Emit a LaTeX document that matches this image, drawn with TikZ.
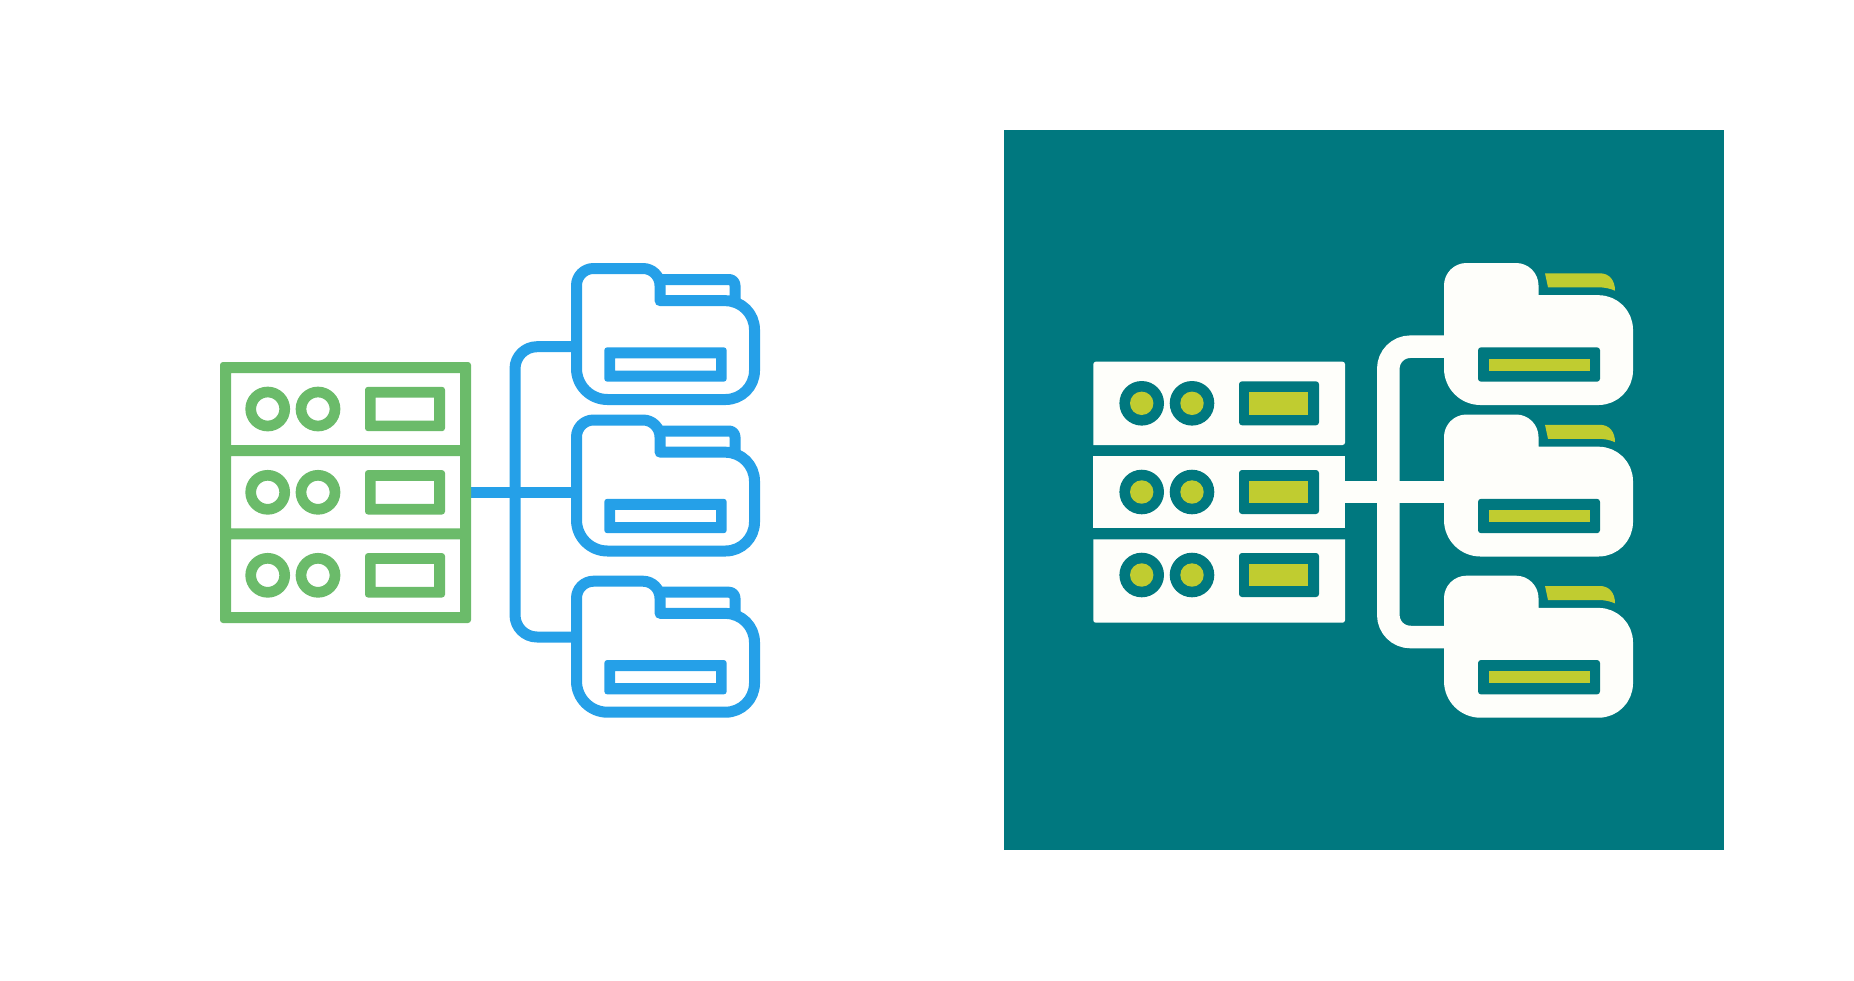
\documentclass[tikz,border=0pt]{standalone}
\definecolor{srvgreen}{HTML}{6BBB6A}
\definecolor{fldblue}{HTML}{25A0E8}
\definecolor{panelteal}{HTML}{00787F}
\definecolor{lime}{HTML}{C0CC30}
\definecolor{paper}{HTML}{FEFEFA}
\tikzset{
  gline/.style={draw=srvgreen,line width=11pt,line join=round},
  bline/.style={draw=fldblue,line width=11pt,line join=round},
  wline/.style={draw=paper,line width=22.5pt},
  whitefill/.style={fill=paper,draw=paper,line width=11pt,line join=round},
  greenframe/.style={fill=srvgreen,even odd rule},
  blueframe/.style={fill=fldblue,even odd rule},
  tealbox/.style={fill=panelteal,rounded corners=3pt},
  limebox/.style={fill=lime},
  whitebox/.style={fill=paper,rounded corners=2.5pt},
}
% folder outline, centre line
\newcommand{\folderoutline}{
  [rounded corners=17pt] (576.5,330) -- (576.5,268.5) -- (660,268.5)
  [sharp corners] -- (660,300.7)
  [rounded corners=29pt] -- (754.5,300.7) -- (754.5,399.5)
  [rounded corners=31pt] -- (576.5,399.5) -- cycle
}
\newcommand{\leftfolder}[1]{
  \begin{scope}[yshift=-#1pt]
    \draw[bline] \folderoutline;
    \draw[bline] [rounded corners=6pt] (660,279.5) -- (735,279.5) -- (735,302);
    \fill[blueframe] [rounded corners=3pt] (604.3,347.3) rectangle (726.7,381.7)
      [sharp corners] (615,358.3) rectangle (716,370.5);
  \end{scope}
}
\newcommand{\rightfolder}[1]{
  \begin{scope}[yshift=-#1pt]
    \path[whitefill,xshift=873pt] \folderoutline;
    \fill[tealbox] (1478,347.3) rectangle (1600,381.7);
    \fill[limebox] (1488.7,358.7) rectangle (1590,370.7);
    \fill[lime] (1545,273.3) -- (1600,273.3) .. controls (1609,273.3) and (1615,280) .. (1615,290.7)
      .. controls (1610,288.5) and (1605,287.3) .. (1598,287.3) -- (1548,287.3) -- cycle;
  \end{scope}
}
\newcommand{\leftrow}[1]{
  \draw[gline,line width=10.7pt] (267.7,#1) circle[radius=17];
  \draw[gline,line width=10.7pt] (318,#1) circle[radius=17];
  \fill[greenframe] [rounded corners=3pt] (365,#1-22.2) rectangle (445,#1+22.2)
    [sharp corners] (375.5,#1-11.5) rectangle (434,#1+11.5);
}
\newcommand{\rightrow}[1]{
  \fill[panelteal] (1141.7,#1) circle[radius=22.3];
  \fill[panelteal] (1192,#1) circle[radius=22.3];
  \fill[lime] (1141.7,#1) circle[radius=11.7];
  \fill[lime] (1192,#1) circle[radius=11.7];
  \fill[tealbox] (1239,#1-22) rectangle (1319,#1+22);
  \fill[limebox] (1249.3,#1-11.3) rectangle (1308.3,#1+11.3);
}
\begin{document}
\begin{tikzpicture}[x=1pt,y=-1pt]
\useasboundingbox (0,0) rectangle (1854,980);
\fill[white] (0,0) rectangle (1854,980);

% ---- left icon: connectors
\coordinate (lsrv) at (465,492);
\coordinate (lfa) at (578,346.7);
\coordinate (lfb) at (578,492);
\coordinate (lfc) at (578,637);
\coordinate (lbend) at (515,346.7);
\coordinate (lbendb) at (515,637);
\draw[bline] (lsrv) -- (lfb);
\draw[bline,rounded corners=22pt] (lfa) -- (lbend) -- (lbendb) -- (lfc);

% ---- left icon: server
\fill[greenframe] [rounded corners=3pt] (220,362) rectangle (471,623)
  [sharp corners] (231,373) rectangle (460,445)
  (231,456) rectangle (460,528.3)
  (231,539.3) rectangle (460,612);
\leftrow{409}
\leftrow{492.3}
\leftrow{575.3}

% ---- left icon: folders
\leftfolder{0}
\leftfolder{151.5}
\leftfolder{312.7}

% ---- right icon
\fill[panelteal] (1003.5,130) rectangle (1724.3,850);

\coordinate (rsrv) at (1340,492);
\coordinate (rfa) at (1450,346.7);
\coordinate (rfb) at (1450,492);
\coordinate (rfc) at (1450,637);
\coordinate (rbend) at (1388.3,346.7);
\coordinate (rbendb) at (1388.3,637);
\draw[wline] (rsrv) -- (rfb);
\draw[wline,rounded corners=22pt] (rfa) -- (rbend) -- (rbendb) -- (rfc);

\fill[whitebox] (1093.3,361.7) -- (1345,361.7) -- (1345,445) [sharp corners] -- (1093.3,445) [rounded corners=2.5pt] -- cycle;
\fill[paper] (1093.3,456) rectangle (1345,528.3);
\fill[whitebox] (1093.3,539.3) [sharp corners] -- (1345,539.3) [rounded corners=2.5pt] -- (1345,622.7) -- (1093.3,622.7) [sharp corners] -- cycle;
\rightrow{403.3}
\rightrow{492}
\rightrow{575}

\rightfolder{0}
\rightfolder{151.5}
\rightfolder{312.7}
\end{tikzpicture}
\end{document}
